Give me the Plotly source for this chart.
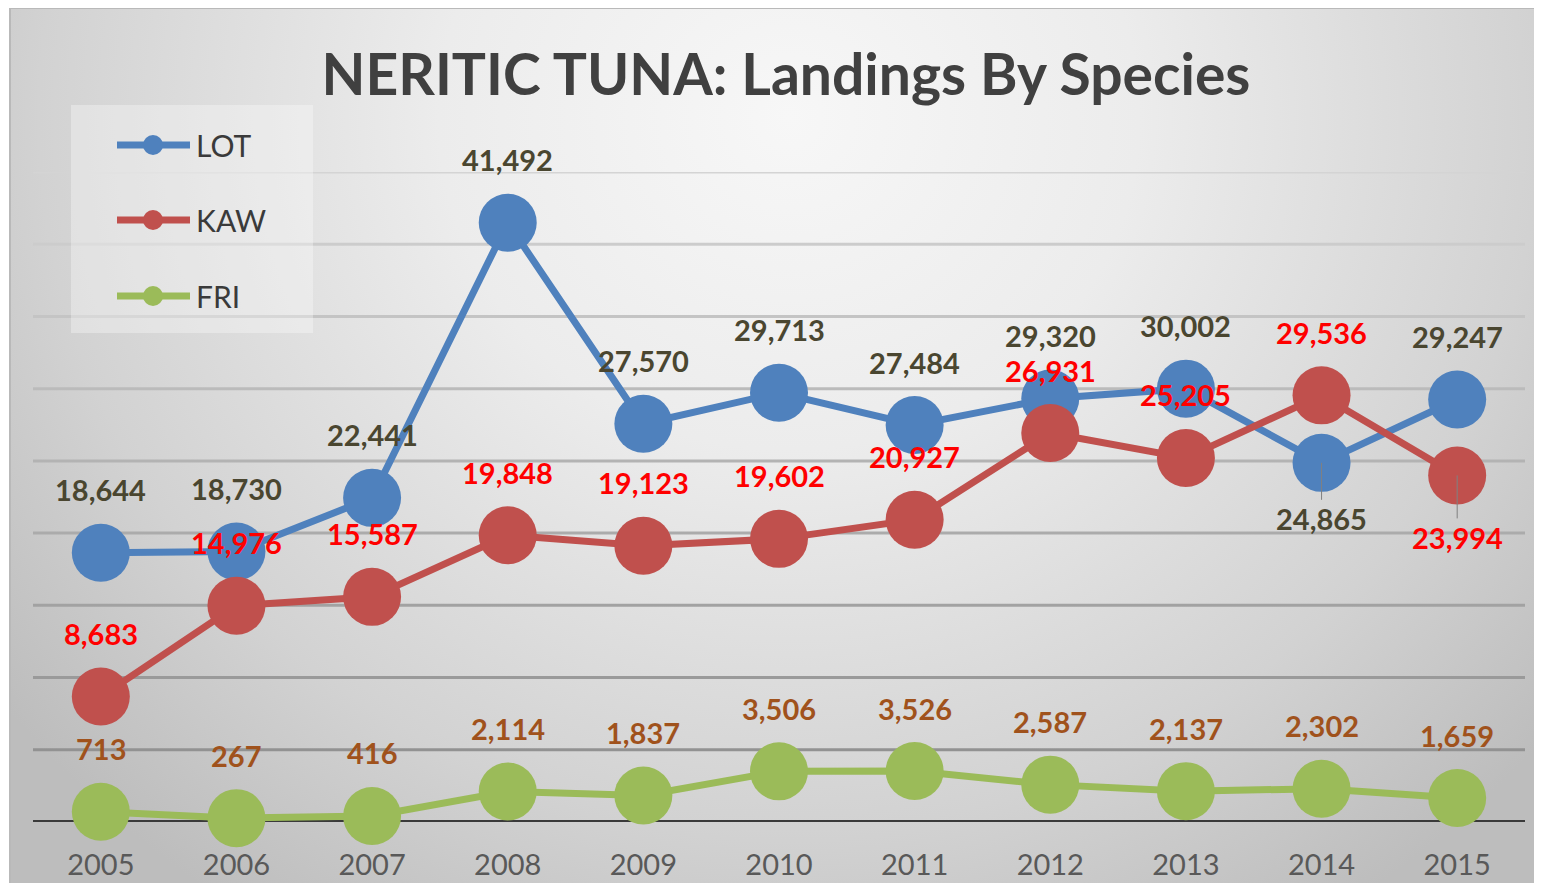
import base64
import plotly.graph_objects as go

years = ["2005", "2006", "2007", "2008", "2009", "2010", "2011", "2012", "2013", "2014", "2015"]
lot = [18644, 18730, 22441, 41492, 27570, 29713, 27484, 29320, 30002, 24865, 29247]
kaw = [8683, 14976, 15587, 19848, 19123, 19602, 20927, 26931, 25205, 29536, 23994]
fri = [713, 267, 416, 2114, 1837, 3506, 3526, 2587, 2137, 2302, 1659]
grid_values = [5000, 10000, 15000, 20000, 25000, 30000, 35000, 40000, 45000]

# the page body has an 8px margin; work in reference pixel coords and shift
OFF = 8
W, H = 1542 - OFF, 883 - OFF
PL, PR, PT, PB = 33, 1525, 172, 822  # plot area in reference pixels
ML = PL - OFF
MT = PT - OFF
MR = W - (PR - OFF)
MB = H - (PB - OFF)
PW, PH = PR - PL, PB - PT

def px_x(p):
    return (p - PL) / PW

def px_y(p):
    return (PB - p) / PH

series = [
    ("LOT", lot, "#4F81BD", "#4A4630"),
    ("KAW", kaw, "#C0504D", "#FF0000"),
    ("FRI", fri, "#9BBB59", "#A0521C"),
]

fig = go.Figure()
xs = list(range(len(years)))
for name, vals, col, _ in series:
    fig.add_trace(go.Scatter(
        x=xs, y=vals, name=name, mode="lines+markers",
        line=dict(color=col, width=7),
        marker=dict(color=col, size=58),
        hoverinfo="skip", showlegend=False, cliponaxis=False,
    ))

# background gradient (SVG data URI)
bw, bh = 1531, 876
svg = f'''<svg xmlns="http://www.w3.org/2000/svg" width="{bw}" height="{bh}">
<defs><radialGradient id="g" gradientUnits="userSpaceOnUse" cx="780" cy="110" r="1000"
gradientTransform="translate(780 110) scale(1 0.95) translate(-780 -110)">
<stop offset="0" stop-color="#f7f7f7"/><stop offset="0.35" stop-color="#ececec"/>
<stop offset="0.75" stop-color="#d2d2d2"/><stop offset="1" stop-color="#bdbdbd"/></radialGradient></defs>
<rect x="0" y="0" width="{bw}" height="{bh}" fill="url(#g)"/>
<rect x="1" y="1" width="{bw-2}" height="{bh+5}" fill="none" stroke="#b9b9b9" stroke-width="2"/>
</svg>'''
uri = "data:image/svg+xml;base64," + base64.b64encode(svg.encode()).decode()
fig.add_layout_image(dict(
    source=uri, xref="paper", yref="paper",
    x=px_x(9), y=px_y(7), sizex=bw / PW, sizey=bh / PH,
    xanchor="left", yanchor="top", sizing="stretch", layer="below",
))

def mix(c1, c2, t):
    return "#%02x%02x%02x" % tuple(int(round(a + (b - a) * t)) for a, b in zip(c1, c2))

shapes = []
for v in grid_values:
    t = (v - grid_values[0]) / (grid_values[-1] - grid_values[0])
    shapes.append(dict(type="line", xref="paper", yref="y", x0=0, x1=1, y0=v, y1=v,
                       line=dict(color=mix((0x92, 0x92, 0x92), (0xd4, 0xd4, 0xd4), t), width=3),
                       layer="below"))
shapes.append(dict(type="line", xref="paper", yref="y", x0=0, x1=1, y0=0, y1=0,
                   line=dict(color="#3a3a3a", width=4), layer="below"))

annotations = []

# legend (drawn manually)
shapes.append(dict(type="rect", xref="paper", yref="paper",
                   x0=px_x(71), x1=px_x(313), y0=px_y(333), y1=px_y(105),
                   fillcolor="rgba(255,255,255,0.32)", line=dict(width=0), layer="above"))
leg_y = [145, 220, 296]
for (name, _, col, _), ly in zip(series, leg_y):
    shapes.append(dict(type="line", xref="paper", yref="paper",
                       x0=px_x(117), x1=px_x(190), y0=px_y(ly), y1=px_y(ly),
                       line=dict(color=col, width=7), layer="above"))
    r = 10
    shapes.append(dict(type="circle", xref="paper", yref="paper",
                       x0=px_x(153 - r), x1=px_x(153 + r), y0=px_y(ly + r), y1=px_y(ly - r),
                       fillcolor=col, line=dict(width=0), layer="above"))
    annotations.append(dict(x=px_x(194), y=px_y(ly), xref="paper", yref="paper",
                            xanchor="left", yanchor="middle", showarrow=False,
                            text=name, font=dict(family="Lato", size=30, color="#3a3a3a")))

# data labels
below = {("LOT", 9): 56, ("KAW", 10): 62}
for name, vals, col, lcol in series:
    for i, v in enumerate(vals):
        txt = f"<b>{v:,}</b>"
        key = (name, i)
        if key in below:
            annotations.append(dict(
                x=i, y=v, xref="x", yref="y", text=txt,
                showarrow=True, arrowhead=0, arrowwidth=1, arrowcolor="#808080",
                ax=0, ay=below[key], standoff=0,
                font=dict(family="Lato", size=29, color=lcol)))
        else:
            annotations.append(dict(
                x=i, y=v, xref="x", yref="y", text=txt,
                showarrow=False, yshift=63,
                font=dict(family="Lato", size=29, color=lcol)))

fig.update_layout(
    width=W, height=H,
    margin=dict(l=ML, r=MR, t=MT, b=MB, pad=0, autoexpand=False),
    paper_bgcolor="white", plot_bgcolor="rgba(0,0,0,0)",
    title=dict(text="<b>NERITIC TUNA: Landings By Species</b>",
               x=(786 - OFF) / W, xanchor="center", y=1 - (75 - OFF) / H, yanchor="middle",
               xref="container", yref="container",
               font=dict(family="Lato", size=57, color="#404040")),
    xaxis=dict(range=[-0.5, len(years) - 0.5], tickmode="array", tickvals=xs, ticktext=years,
               showgrid=False, zeroline=False, showline=False, ticks="",
               tickfont=dict(family="Lato", size=29, color="#595959"),
               ticklabelstandoff=23, automargin=False, fixedrange=True),
    yaxis=dict(range=[0, 45000], showgrid=False, zeroline=False, showticklabels=False,
               ticks="", automargin=False, fixedrange=True),
    showlegend=False,
    shapes=shapes,
    annotations=annotations,
)

fig.write_html("out.html")
